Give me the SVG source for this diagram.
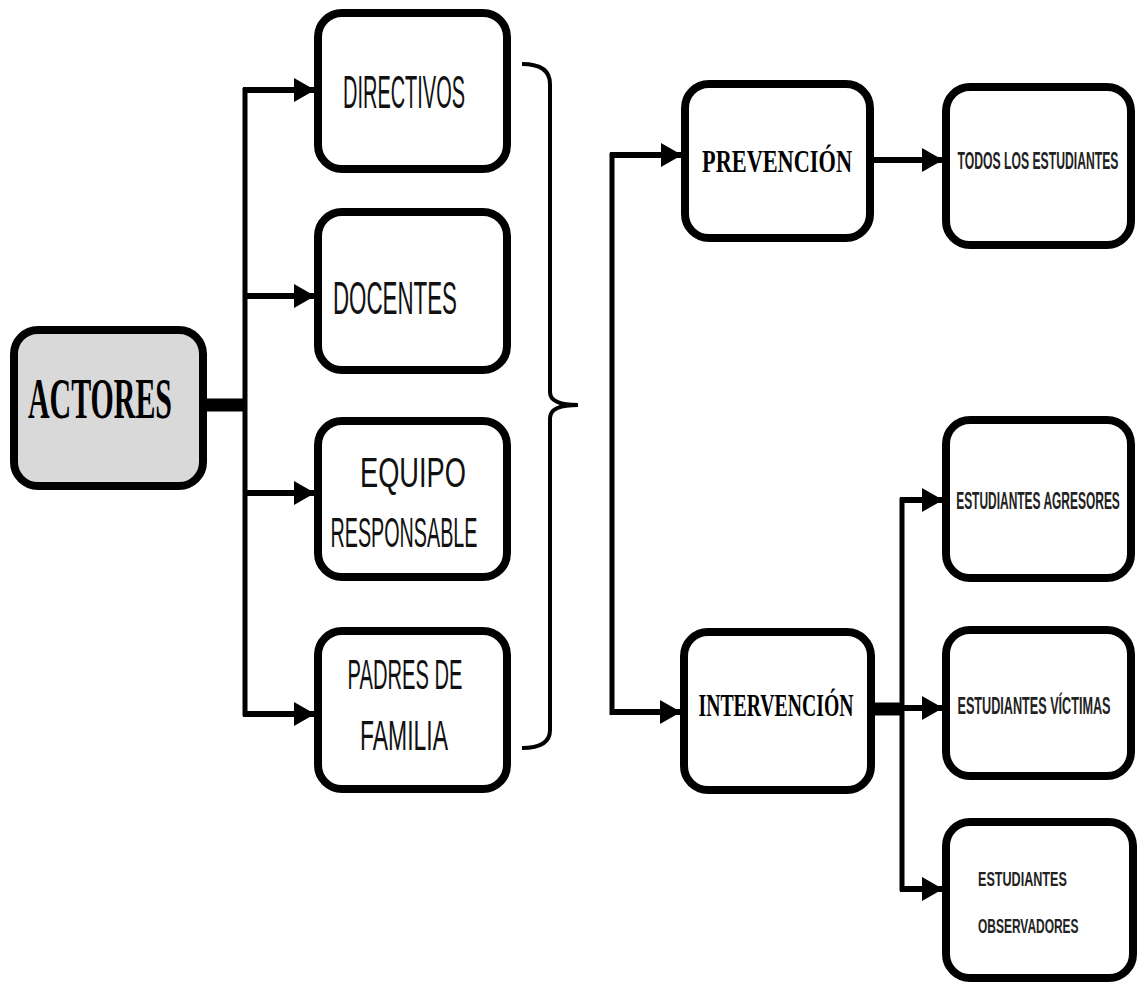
<svg xmlns="http://www.w3.org/2000/svg" width="1138" height="982" viewBox="0 0 1138 982">
<defs>
<marker id="ah" markerUnits="userSpaceOnUse" markerWidth="22" markerHeight="24" refX="20" refY="12" orient="auto" viewBox="0 0 22 24">
<path d="M0,0 L21,12 L0,24 z" fill="#000"/>
</marker>
<style>
.box{fill:#fff;stroke:#000;stroke-width:8}
.gray{fill:#d9d9d9}
.ser{font-family:"Liberation Serif",serif;font-weight:bold;fill:#000}
.san{font-family:"Liberation Sans",Arial,sans-serif;fill:#111}
.sm{font-family:"Liberation Sans",Arial,sans-serif;font-weight:bold;fill:#222}
.c{fill:none;stroke:#000;stroke-width:5}
.a{fill:none;stroke:#000;stroke-width:6;marker-end:url(#ah)}
</style>
</defs>
<rect width="1138" height="982" fill="#fff"/>
<g id="connectors">
<line x1="205" y1="405" x2="247" y2="405" stroke="#000" stroke-width="13"/>
<line class="c" x1="245" y1="88" x2="245" y2="716"/>
<path class="a" d="M243,90 H314"/>
<path class="a" d="M243,296 H314"/>
<path class="a" d="M243,493 H314"/>
<path class="a" d="M243,714 H314"/>
<path d="M522,64 Q550,64 550,84 V392 Q550,405 578,405 Q550,405 550,418 V730 Q550,748 522,748" fill="none" stroke="#000" stroke-width="4"/>
<line class="c" x1="612" y1="153" x2="612" y2="715"/>
<path class="a" d="M610,155 H681"/>
<path class="a" d="M610,712 H680"/>
<path class="a" d="M870,160 H942"/>
<line x1="873" y1="709" x2="903" y2="709" stroke="#000" stroke-width="13"/>
<line class="c" x1="902" y1="498" x2="902" y2="891"/>
<path class="a" d="M900,500 H942"/>
<path class="a" d="M900,708 H942"/>
<path class="a" d="M900,889 H942"/>
</g>
<g id="actores">
<rect class="box gray" x="14" y="330" width="189" height="156" rx="24"/>
<text class="ser" x="100" y="418" font-size="58" text-anchor="middle" textLength="144" lengthAdjust="spacingAndGlyphs">ACTORES</text>
</g>
<g id="directivos">
<rect class="box" x="318" y="13" width="189" height="156" rx="24"/>
<text class="san" x="404" y="108" font-size="46" text-anchor="middle" textLength="122" lengthAdjust="spacingAndGlyphs">DIRECTIVOS</text>
</g>
<g id="docentes">
<rect class="box" x="318" y="212" width="189" height="158" rx="24"/>
<text class="san" x="395" y="314" font-size="46" text-anchor="middle" textLength="124" lengthAdjust="spacingAndGlyphs">DOCENTES</text>
</g>
<g id="equipo">
<rect class="box" x="318" y="421" width="189" height="156" rx="24"/>
<text class="san" x="413" y="487" font-size="42" text-anchor="middle" textLength="106" lengthAdjust="spacingAndGlyphs">EQUIPO</text>
<text class="san" x="404" y="547" font-size="42" text-anchor="middle" textLength="147" lengthAdjust="spacingAndGlyphs">RESPONSABLE</text>
</g>
<g id="padres">
<rect class="box" x="318" y="631" width="189" height="158" rx="24"/>
<text class="san" x="405" y="689" font-size="42" text-anchor="middle" textLength="115" lengthAdjust="spacingAndGlyphs">PADRES DE</text>
<text class="san" x="404" y="750" font-size="42" text-anchor="middle" textLength="88" lengthAdjust="spacingAndGlyphs">FAMILIA</text>
</g>
<g id="prevencion">
<rect class="box" x="685" y="84" width="185" height="154" rx="24"/>
<text class="ser" x="777" y="172" font-size="32" text-anchor="middle" textLength="150" lengthAdjust="spacingAndGlyphs">PREVENCIÓN</text>
</g>
<g id="todos">
<rect class="box" x="946" y="87" width="185" height="158" rx="24"/>
<text class="sm" transform="translate(1038,169) scale(0.53,1)" font-size="23" text-anchor="middle">TODOS LOS ESTUDIANTES</text>
</g>
<g id="intervencion">
<rect class="box" x="684" y="632" width="187" height="158" rx="24"/>
<text class="ser" x="776" y="716" font-size="32" text-anchor="middle" textLength="155" lengthAdjust="spacingAndGlyphs">INTERVENCIÓN</text>
</g>
<g id="agresores">
<rect class="box" x="946" y="420" width="185" height="158" rx="24"/>
<text class="sm" transform="translate(1038,509) scale(0.52,1)" font-size="23" text-anchor="middle">ESTUDIANTES AGRESORES</text>
</g>
<g id="victimas">
<rect class="box" x="946" y="630" width="185" height="146" rx="24"/>
<text class="sm" transform="translate(1034,714) scale(0.55,1)" font-size="23" text-anchor="middle">ESTUDIANTES VÍCTIMAS</text>
</g>
<g id="observadores">
<rect class="box" x="946" y="822" width="187" height="156" rx="24"/>
<text class="sm" transform="translate(978,886) scale(0.6,1)" font-size="21">ESTUDIANTES</text>
<text class="sm" transform="translate(978,933) scale(0.57,1)" font-size="21">OBSERVADORES</text>
</g>
</svg>
